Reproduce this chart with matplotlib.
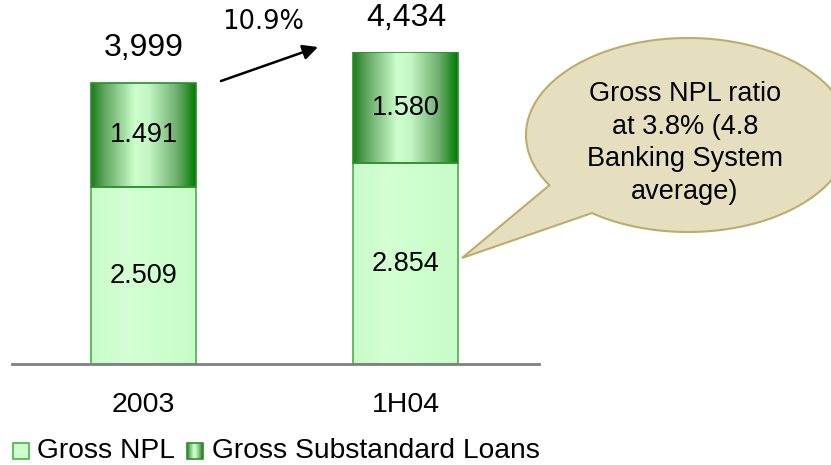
import numpy as np
import matplotlib
matplotlib.use("Agg")
import matplotlib.pyplot as plt
from matplotlib.colors import LinearSegmentedColormap
from matplotlib.patches import Polygon, Rectangle

# --- data -------------------------------------------------------------
categories = ["2003", "1H04"]
gross_npl = [2.509, 2.854]
gross_substandard = [1.491, 1.580]
totals = [3999, 4434]
total_labels = ["3,999", "4,434"]
growth_label = "10.9%"
legend_labels = ["Gross NPL", "Gross Substandard Loans"]
callout_text = "Gross NPL ratio\nat 3.8% (4.8\nBanking System\naverage)"

FONT = "Liberation Sans"
W, H = 831, 465

fig = plt.figure(figsize=(W / 100, H / 100), dpi=100)
fig.patch.set_facecolor("white")

# main axes: baseline at y=364px, top of the tallest bar at y=52px
ax = fig.add_axes([12 / W, (H - 364) / H, 527 / W, 312 / H])
ax.set_facecolor("none")

x = np.arange(len(categories))
width = 0.4

light_cmap = LinearSegmentedColormap.from_list(
    "light", ["#c8fac8", "#d4ffd4", "#cdffcd", "#c9fbc9"])
dark_cmap = LinearSegmentedColormap.from_list(
    "dark", [(0.0, "#1a7d1a"), (0.12, "#5ea35e"), (0.42, "#ccffcc"),
             (0.55, "#c4f6c4"), (0.82, "#6fae6f"), (1.0, "#007a00")])
grad = np.linspace(0, 1, 256).reshape(1, -1)

# values are in thousands with '.' separator; scale to the totals' units
npl_vals = [v * 1000 for v in gross_npl]
sub_vals = [v * 1000 for v in gross_substandard]

bars_npl = ax.bar(x, npl_vals, width, facecolor="none",
                  edgecolor="#4cb04c", linewidth=1.2, zorder=3)
bars_sub = ax.bar(x, sub_vals, width, bottom=npl_vals, facecolor="none",
                  edgecolor="#2a8f2a", linewidth=1.2, zorder=3)

for bars, cmap in ((bars_npl, light_cmap), (bars_sub, dark_cmap)):
    for b in bars:
        x0, y0 = b.get_x(), b.get_y()
        im = ax.imshow(grad, cmap=cmap, aspect="auto", zorder=2,
                       interpolation="bilinear",
                       extent=[x0, x0 + b.get_width(), y0, y0 + b.get_height()])
        clip = Rectangle((x0, y0), b.get_width(), b.get_height(),
                         transform=ax.transData)
        im.set_clip_path(clip)

# segment value labels
for i in range(len(categories)):
    ax.text(x[i], npl_vals[i] / 2, f"{gross_npl[i]:.3f}", ha="center",
            va="center", fontsize=19.5, family=FONT, zorder=4)
    ax.text(x[i], npl_vals[i] + sub_vals[i] / 2, f"{gross_substandard[i]:.3f}",
            ha="center", va="center", fontsize=19.5, family=FONT, zorder=4)
    ax.annotate(total_labels[i], (x[i], totals[i]), xytext=(0, 14),
                textcoords="offset points", ha="center", va="bottom",
                fontsize=23, family=FONT, annotation_clip=False)

ax.set_xlim(-0.501, 1.507)
ax.set_ylim(0, 4434)
ax.set_yticks([])
ax.set_xticks(x)
ax.set_xticklabels(categories, fontsize=20.5, family=FONT)
ax.tick_params(axis="x", length=0, pad=20)
for s in ("top", "left", "right"):
    ax.spines[s].set_visible(False)
ax.spines["bottom"].set_color("#808080")
ax.spines["bottom"].set_linewidth(2)
ax.spines["bottom"].set_zorder(5)

# overlay in pixel coordinates for annotations and legend
ov = fig.add_axes([0, 0, 1, 1], zorder=10)
ov.axis("off")
ov.patch.set_visible(False)

# growth arrow
ov.annotate("", xy=(318, 47), xytext=(221, 81),
            arrowprops=dict(arrowstyle="-|>,head_length=0.9,head_width=0.45",
                            color="black", lw=1.8, shrinkA=0, shrinkB=0))
ov.text(263, 22, growth_label, ha="center", va="center", fontsize=18.5,
        family="DejaVu Sans")

# speech bubble
cx, cy, a, b = 688, 135, 162, 97


def ell_angle(px, py):
    return np.degrees(np.arctan2((py - cy) / b, (px - cx) / a))


t0 = ell_angle(550, 185)
t1 = ell_angle(592, 213) + 360
t = np.radians(np.linspace(t0, t1, 400))
pts = np.column_stack([cx + a * np.cos(t), cy + b * np.sin(t)])
pts = np.vstack([pts, [462, 258]])
ov.add_patch(Polygon(pts, closed=True, facecolor="#e6dfbf",
                     edgecolor="#bcad6c", linewidth=1.5))
ov.text(685, 143, callout_text, ha="center", va="center", fontsize=19.5,
        family=FONT, linespacing=1.32, multialignment="center")

# legend
ov.add_patch(Rectangle((13, 443), 16, 16, facecolor="#ccffcc",
                       edgecolor="#4cb04c", linewidth=1.2))
ov.text(37, 451, legend_labels[0], ha="left", va="center", fontsize=20.3,
        family=FONT)
im = ov.imshow(grad, cmap=dark_cmap, aspect="auto", interpolation="bilinear",
               extent=[187, 203, 459, 443], zorder=1)
im.set_clip_path(Rectangle((187, 443), 16, 16, transform=ov.transData))
ov.add_patch(Rectangle((187, 443), 16, 16, facecolor="none",
                       edgecolor="#2a8f2a", linewidth=1.2))
ov.text(212, 451, legend_labels[1], ha="left", va="center", fontsize=20.3,
        family=FONT)
ov.set_xlim(0, W)
ov.set_ylim(H, 0)

fig.savefig("out.png", dpi=100)
